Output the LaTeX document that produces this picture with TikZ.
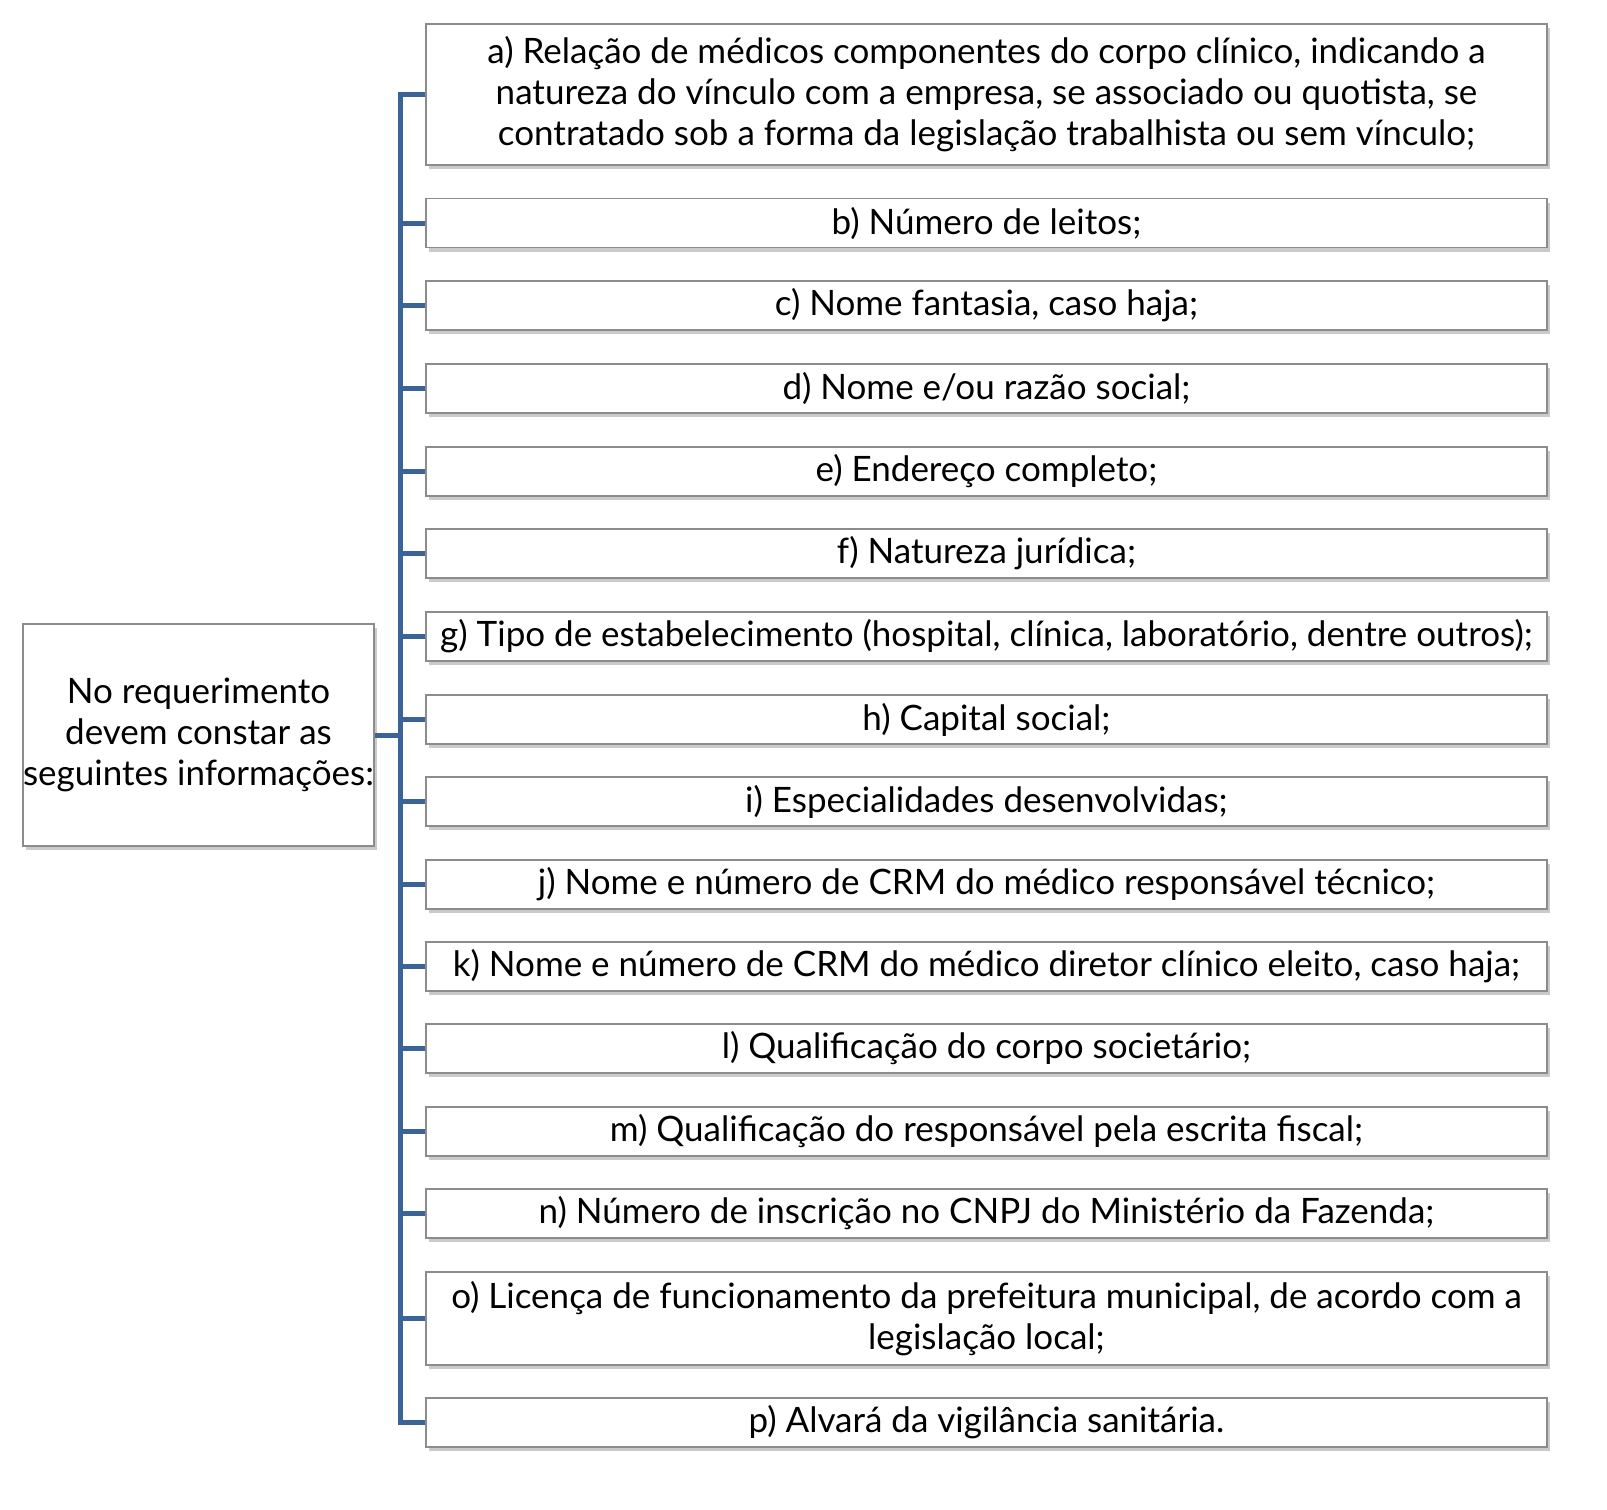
\documentclass[tikz,border=0pt]{standalone}
\usepackage{fontspec}
\setmainfont{Lato}
\usetikzlibrary{shadows}
\definecolor{conn}{HTML}{3A6496}
\definecolor{edge}{HTML}{8C8C8C}
\tikzset{
  box/.style={draw=edge, line width=1.5pt, fill=white, align=center, inner sep=0pt,
    font=\fontsize{35}{41}\selectfont,
    drop shadow={shadow xshift=3pt, shadow yshift=-4pt, opacity=0.35, fill=black!60}},
  item/.style={box, minimum width=1121pt},
  link/.style={draw=conn, line width=5pt, line cap=butt, line join=miter}
}
\begin{document}
\begin{tikzpicture}[x=1pt,y=-1pt]
\node[box, minimum width=351pt, minimum height=222pt] (root) at (198.5,735) {No requerimento\\devem constar as\\seguintes informações:};
\node[item, minimum height=141pt] (a) at (986.5,94.5) {a) Relação de médicos componentes do corpo clínico, indicando a\\natureza do vínculo com a empresa, se associado ou quotista, se\\contratado sob a forma da legislação trabalhista ou sem vínculo;};
\node[item, minimum height=49pt] (b) at (986.5,223) {b) Número de leitos;};
\node[item, minimum height=49pt] (c) at (986.5,305.5) {c) Nome fantasia, caso haja;};
\node[item, minimum height=49pt] (d) at (986.5,388.5) {d) Nome e/ou razão social;};
\node[item, minimum height=49pt] (e) at (986.5,471.5) {e) Endereço completo;};
\node[item, minimum height=49pt] (f) at (986.5,553.5) {f) Natureza jurídica;};
\node[item, minimum height=49pt] (g) at (986.5,636.5) {g) Tipo de estabelecimento (hospital, clínica, laboratório, dentre outros);};
\node[item, minimum height=49pt] (h) at (986.5,719.5) {h) Capital social;};
\node[item, minimum height=49pt] (i) at (986.5,801.5) {i) Especialidades desenvolvidas;};
\node[item, minimum height=49pt] (j) at (986.5,884.5) {j) Nome e número de CRM do médico responsável técnico;};
\node[item, minimum height=49pt] (k) at (986.5,966.5) {k) Nome e número de CRM do médico diretor clínico eleito, caso haja;};
\node[item, minimum height=49pt] (l) at (986.5,1048.5) {l) Qualificação do corpo societário;};
\node[item, minimum height=49pt] (m) at (986.5,1131.5) {m) Qualificação do responsável pela escrita fiscal;};
\node[item, minimum height=49pt] (n) at (986.5,1213.5) {n) Número de inscrição no CNPJ do Ministério da Fazenda;};
\node[item, minimum height=93pt] (o) at (986.5,1318.5) {o) Licença de funcionamento da prefeitura municipal, de acordo com a\\legislação local;};
\node[item, minimum height=49pt] (p) at (986.5,1422.5) {p) Alvará da vigilância sanitária.};
\coordinate (spine) at (400,0);
\draw[link] (root.east) -- (root.east -| spine);
\draw[link] (a.west) -- (a.west -| spine) -- (p.west -| spine) -- (p.west);
\foreach \n in {b,c,d,e,f,g,h,i,j,k,l,m,n,o}{
  \draw[link] (\n.west -| spine) -- (\n.west);
}
\pgfresetboundingbox
\useasboundingbox (0,0) rectangle (1607,1510);
\end{tikzpicture}
\end{document}
